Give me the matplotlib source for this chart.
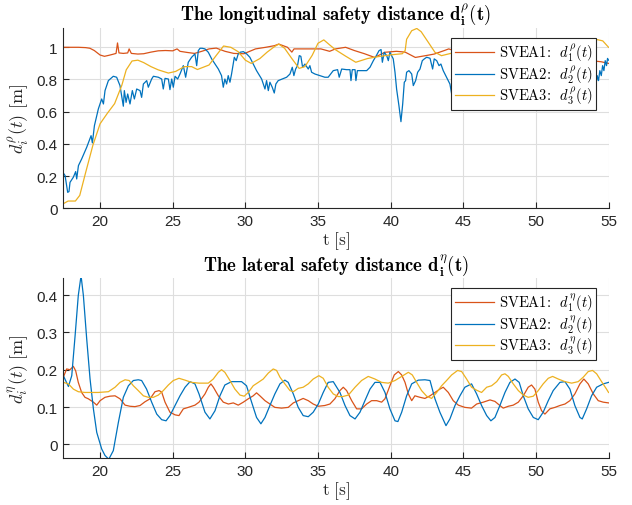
import matplotlib
matplotlib.use('Agg')
import matplotlib.pyplot as plt

plt.rcParams['mathtext.fontset'] = 'cm'
plt.rcParams['axes.unicode_minus'] = False

# longitudinal safety distance, SVEA1
t_rho1 = [17.5, 18.0, 18.5, 19.0, 19.3, 19.6, 20.0, 20.3, 20.6, 20.9,
          21.1, 21.2, 21.3, 21.6, 21.9, 22.0, 22.15, 22.6, 23.0, 23.5,
          24.0, 24.5, 25.0, 25.3, 25.5, 26.0, 26.5, 27.0, 27.5, 28.0,
          28.6, 29.2, 29.9, 30.3, 30.7, 31.4, 32.0, 32.3, 32.9, 33.2,
          33.35, 34.0, 34.5, 35.2, 35.8, 36.2, 36.9, 37.5, 38.2, 38.9,
          39.6, 40.4, 41.0, 41.7, 42.4, 43.0, 43.7, 44.0, 45.0, 46.0,
          47.0, 48.0, 49.0, 50.0, 51.0, 52.0, 53.0, 54.0, 54.5, 55.0]
d_rho1 = [1.0, 1.0, 1.0, 0.998, 0.994, 0.98, 0.952, 0.944, 0.95, 0.957,
          0.962, 1.027, 0.965, 0.962, 0.965, 0.99, 0.962, 0.958, 0.96, 0.97,
          0.978, 0.98, 0.978, 0.99, 0.975, 0.968, 0.962, 0.975, 0.99, 0.995,
          0.975, 0.962, 0.96, 0.975, 0.99, 1.0, 1.01, 1.02, 1.0, 0.97,
          0.99, 0.99, 0.99, 0.99, 0.975, 0.99, 1.0, 0.98, 0.96, 0.937,
          0.969, 0.975, 0.97, 0.937, 0.948, 0.958, 0.98, 0.99, 0.96, 0.95,
          0.94, 0.95, 0.94, 0.93, 0.94, 0.93, 0.92, 0.915, 0.91, 0.9]

# longitudinal safety distance, SVEA2
t_rho2 = [17.47, 17.59, 17.77, 17.86, 17.93, 18.16, 18.32, 18.39, 18.51, 18.73,
          19.08, 19.38, 19.47, 19.61, 19.88, 20.11, 20.23, 20.34, 20.57, 20.91,
          21.14, 21.37, 21.6, 21.67, 21.79, 21.9, 22.06, 22.22, 22.36, 22.52,
          22.75, 22.86, 22.98, 23.21, 23.32, 23.55, 23.67, 24.01, 24.24, 24.35,
          24.47, 24.7, 24.81, 24.93, 25.04, 25.16, 25.34, 25.5, 25.73, 25.89,
          26.07, 26.3, 26.53, 26.65, 26.76, 26.88, 27.03, 27.22, 27.45, 27.68,
          27.91, 28.14, 28.36, 28.48, 28.59, 28.71, 28.82, 28.94, 29.05, 29.24,
          29.37, 29.51, 29.63, 29.86, 30.09, 30.31, 30.54, 30.77, 31.12, 31.35,
          31.46, 31.58, 31.69, 31.85, 31.99, 32.1, 32.26, 32.54, 32.84, 33.07,
          33.23, 33.34, 33.46, 33.59, 33.71, 33.82, 33.94, 34.1, 34.33, 34.44,
          34.56, 34.79, 35.13, 35.47, 35.7, 36.05, 36.35, 36.46, 36.63, 36.97,
          37.2, 37.27, 37.36, 37.55, 37.61, 37.71, 38.0, 38.35, 38.58, 38.81,
          39.04, 39.2, 39.34, 39.43, 39.56, 39.73, 39.84, 39.95, 40.07, 40.18,
          40.3, 40.41, 40.57, 40.71, 40.83, 40.94, 41.03, 41.1, 41.26, 41.45,
          41.56, 41.72, 41.86, 42.02, 42.18, 42.32, 42.48, 42.71, 42.89, 43.0,
          43.17, 43.33, 43.46, 43.62, 43.85, 44.08, 44.2, 44.4, 44.8, 45.2,
          45.6, 46.0, 46.4, 46.8, 47.2, 47.6, 48.0, 48.4, 48.8, 49.2,
          49.6, 50.0, 50.4, 50.6, 50.75, 50.9, 51.2, 51.6, 52.0, 52.4,
          52.8, 53.2, 53.6, 53.9, 54.18, 54.22, 54.31, 54.4, 54.5, 54.59,
          54.68, 54.77, 54.86, 54.93, 55.0]
d_rho2 = [0.219, 0.203, 0.099, 0.104, 0.161, 0.193, 0.228, 0.182, 0.265, 0.306,
          0.379, 0.451, 0.406, 0.513, 0.617, 0.679, 0.648, 0.731, 0.793, 0.82,
          0.814, 0.762, 0.634, 0.731, 0.658, 0.71, 0.648, 0.731, 0.679, 0.741,
          0.731, 0.689, 0.772, 0.793, 0.752, 0.803, 0.82, 0.814, 0.803, 0.741,
          0.807, 0.803, 0.737, 0.803, 0.752, 0.82, 0.803, 0.834, 0.886, 0.814,
          0.907, 0.938, 0.959, 0.886, 0.979, 0.994, 0.994, 0.99, 0.969, 0.928,
          0.896, 0.865, 0.824, 0.752, 0.803, 0.772, 0.824, 0.783, 0.834, 0.938,
          0.917, 0.959, 0.969, 0.973, 0.959, 0.938, 0.896, 0.855, 0.803, 0.741,
          0.793, 0.731, 0.783, 0.752, 0.716, 0.772, 0.793, 0.803, 0.814, 0.834,
          0.876, 0.824, 0.865, 0.886, 0.948, 0.944, 0.876, 0.896, 0.865, 0.886,
          0.845, 0.834, 0.824, 0.814, 0.814, 0.855, 0.861, 0.814, 0.865, 0.861,
          0.861, 0.793, 0.861, 0.861, 0.793, 0.855, 0.855, 0.855, 0.876, 0.917,
          0.952, 0.979, 0.986, 0.907, 0.969, 0.948, 0.917, 0.969, 0.948, 0.928,
          0.845, 0.741, 0.638, 0.538, 0.648, 0.783, 0.793, 0.845, 0.855, 0.834,
          0.762, 0.793, 0.845, 0.865, 0.917, 0.928, 0.938, 0.932, 0.865, 0.928,
          0.917, 0.886, 0.896, 0.855, 0.814, 0.772, 0.71, 0.78, 0.83, 0.8,
          0.86, 0.79, 0.84, 0.88, 0.81, 0.86, 0.83, 0.9, 0.84, 0.88,
          0.82, 0.78, 0.74, 0.7, 0.69, 0.72, 0.77, 0.82, 0.86, 0.79,
          0.84, 0.8, 0.82, 0.8, 0.793, 0.824, 0.793, 0.855, 0.824, 0.886,
          0.855, 0.917, 0.886, 0.931, 0.92]

# longitudinal safety distance, SVEA3
t_rho3 = [17.5, 17.8, 18.3, 18.6, 19.0, 19.5, 20.0, 20.5, 21.0, 21.5,
          21.8, 22.2, 22.6, 23.0, 23.5, 24.0, 24.7, 25.2, 25.8, 26.3,
          26.7, 27.5, 28.0, 28.5, 29.0, 29.5, 30.0, 30.4, 31.0, 31.5,
          32.0, 32.3, 32.7, 33.2, 33.7, 34.1, 34.6, 35.0, 35.4, 35.8,
          36.2, 36.9, 37.6, 38.4, 39.0, 39.6, 40.2, 40.8, 41.0, 41.1,
          41.45, 41.8, 42.1, 42.6, 43.05, 43.5, 44.0, 44.5, 45.5, 46.5,
          47.5, 48.5, 49.5, 50.5, 51.5, 52.5, 53.5, 54.1, 54.6, 55.0]
d_rho3 = [0.03, 0.045, 0.045, 0.08, 0.22, 0.39, 0.525, 0.59, 0.65, 0.765,
          0.86, 0.915, 0.92, 0.905, 0.88, 0.86, 0.84, 0.85, 0.88, 0.88,
          0.862, 0.89, 0.95, 1.008, 1.0, 0.973, 0.92, 0.9, 0.93, 0.97,
          1.004, 1.02, 0.994, 0.93, 0.869, 0.88, 0.95, 1.025, 1.046, 1.015,
          0.985, 0.945, 0.907, 0.93, 0.94, 0.948, 0.955, 0.96, 0.98, 1.05,
          1.103, 1.117, 1.097, 1.03, 0.969, 0.948, 0.959, 0.97, 0.98, 1.0,
          0.99, 0.97, 0.98, 1.0, 1.02, 1.04, 1.05, 1.05, 1.04, 1.0]

# lateral safety distance, SVEA1
t_eta1 = [17.47, 17.7, 17.93, 18.16, 18.32, 18.5, 18.73, 18.96, 19.19, 19.54,
          19.77, 20.0, 20.34, 20.68, 21.03, 21.37, 21.72, 22.06, 22.4, 22.75,
          23.09, 23.44, 23.78, 24.06, 24.24, 24.47, 24.81, 25.16, 25.43, 25.73,
          26.07, 26.53, 26.81, 27.22, 27.45, 27.63, 27.8, 28.14, 28.48, 28.83,
          29.17, 29.51, 29.86, 30.2, 30.54, 30.77, 31.0, 31.35, 31.69, 32.03,
          32.49, 32.95, 33.3, 33.64, 33.98, 34.33, 34.67, 35.02, 35.47, 35.82,
          36.16, 36.51, 36.74, 36.97, 37.32, 37.66, 38.0, 38.35, 38.69, 39.04,
          39.38, 39.61, 39.95, 40.25, 40.53, 40.76, 40.99, 41.22, 41.45, 41.67,
          42.02, 42.36, 42.71, 43.05, 43.39, 43.62, 43.97, 44.31, 44.66, 45.11,
          45.57, 45.92, 46.38, 46.84, 47.18, 47.52, 47.75, 48.1, 48.44, 48.79,
          49.13, 49.47, 49.7, 49.93, 50.16, 50.39, 50.62, 50.96, 51.31, 51.65,
          52.0, 52.34, 52.68, 53.03, 53.3, 53.6, 53.95, 54.29, 54.63, 55.0]
d_eta1 = [0.18, 0.202, 0.2, 0.209, 0.197, 0.166, 0.139, 0.126, 0.122, 0.113,
          0.105, 0.117, 0.126, 0.129, 0.13, 0.122, 0.105, 0.102, 0.101, 0.104,
          0.114, 0.122, 0.141, 0.144, 0.14, 0.113, 0.086, 0.079, 0.077, 0.095,
          0.099, 0.105, 0.113, 0.135, 0.153, 0.162, 0.153, 0.13, 0.113, 0.108,
          0.111, 0.105, 0.113, 0.122, 0.13, 0.138, 0.13, 0.117, 0.108, 0.099,
          0.097, 0.099, 0.111, 0.117, 0.123, 0.117, 0.108, 0.102, 0.104, 0.108,
          0.122, 0.144, 0.153, 0.144, 0.117, 0.095, 0.095, 0.108, 0.117, 0.117,
          0.113, 0.122, 0.157, 0.186, 0.195, 0.186, 0.166, 0.135, 0.117, 0.13,
          0.126, 0.123, 0.13, 0.139, 0.148, 0.153, 0.139, 0.117, 0.105, 0.099,
          0.097, 0.108, 0.113, 0.119, 0.115, 0.104, 0.097, 0.102, 0.105, 0.113,
          0.13, 0.153, 0.159, 0.148, 0.113, 0.09, 0.081, 0.095, 0.099, 0.104,
          0.108, 0.117, 0.135, 0.162, 0.175, 0.162, 0.135, 0.117, 0.113, 0.111]

# lateral safety distance, SVEA2
t_eta2 = [17.47, 17.82, 18.05, 18.28, 18.5, 18.69, 18.85, 19.08, 19.31, 19.54,
          19.77, 20.11, 20.34, 20.6, 20.91, 21.26, 21.6, 21.95, 22.29, 22.63,
          22.86, 23.2, 23.55, 23.9, 24.24, 24.54, 24.81, 25.16, 25.5, 25.85,
          26.19, 26.53, 26.81, 27.22, 27.56, 27.91, 28.25, 28.59, 29.05, 29.74,
          30.08, 30.43, 30.77, 31.07, 31.35, 31.69, 32.03, 32.38, 32.72, 32.95,
          33.3, 33.64, 33.98, 34.33, 34.67, 35.02, 35.36, 35.7, 36.05, 36.51,
          36.86, 37.2, 37.55, 37.89, 38.23, 38.58, 38.92, 39.27, 39.61, 39.95,
          40.3, 40.5, 40.76, 41.1, 41.45, 41.9, 42.36, 42.71, 43.05, 43.39,
          43.81, 44.08, 44.43, 44.77, 45.11, 45.57, 45.92, 46.26, 46.61, 46.9,
          47.18, 47.52, 47.87, 48.21, 48.56, 48.85, 49.13, 49.47, 49.82, 50.16,
          50.5, 50.85, 51.19, 51.65, 52.0, 52.34, 52.68, 53.03, 53.19, 53.49,
          53.83, 54.18, 54.63, 55.0]
d_eta2 = [0.184, 0.155, 0.184, 0.291, 0.399, 0.452, 0.399, 0.282, 0.175, 0.095,
          0.032, -0.0125, -0.03, -0.04, -0.017, 0.059, 0.126, 0.157, 0.171, 0.173,
          0.171, 0.148, 0.113, 0.081, 0.066, 0.063, 0.077, 0.104, 0.13, 0.153,
          0.168, 0.162, 0.135, 0.086, 0.068, 0.09, 0.13, 0.159, 0.168, 0.168,
          0.157, 0.113, 0.072, 0.055, 0.072, 0.104, 0.135, 0.162, 0.172, 0.166,
          0.135, 0.099, 0.077, 0.074, 0.086, 0.108, 0.139, 0.166, 0.168, 0.139,
          0.104, 0.077, 0.068, 0.086, 0.117, 0.148, 0.166, 0.166, 0.139, 0.095,
          0.063, 0.061, 0.086, 0.13, 0.162, 0.172, 0.173, 0.171, 0.122, 0.086,
          0.05, 0.068, 0.104, 0.13, 0.153, 0.162, 0.135, 0.104, 0.077, 0.063,
          0.072, 0.104, 0.139, 0.166, 0.175, 0.166, 0.13, 0.095, 0.072, 0.066,
          0.086, 0.117, 0.144, 0.166, 0.168, 0.148, 0.104, 0.072, 0.068, 0.095,
          0.13, 0.153, 0.162, 0.166]

# lateral safety distance, SVEA3
t_eta3 = [17.47, 17.82, 18.16, 18.5, 18.96, 19.42, 19.88, 20.57, 21.03, 21.37,
          21.72, 22.0, 22.29, 22.63, 22.98, 23.32, 23.67, 24.01, 24.35, 24.7,
          25.04, 25.43, 25.85, 26.3, 26.81, 27.45, 27.79, 28.14, 28.36, 28.59,
          28.94, 29.28, 29.63, 29.92, 30.2, 30.54, 30.89, 31.23, 31.58, 31.92,
          32.15, 32.38, 32.72, 33.07, 33.3, 33.64, 33.98, 34.33, 34.67, 35.06,
          35.36, 35.7, 36.05, 36.4, 36.7, 37.09, 37.55, 38.0, 38.46, 38.92,
          39.38, 39.84, 40.3, 40.76, 41.22, 41.49, 41.79, 42.13, 42.48, 42.82,
          43.17, 43.51, 43.85, 44.2, 44.61, 44.89, 45.23, 45.57, 45.92, 46.26,
          46.61, 46.95, 47.3, 47.64, 47.87, 48.1, 48.44, 48.79, 49.13, 49.47,
          49.82, 50.16, 50.5, 50.85, 51.15, 51.54, 52.0, 52.46, 52.91, 53.26,
          53.6, 53.9, 54.18, 54.52, 54.86, 55.0]
d_eta3 = [0.166, 0.162, 0.148, 0.141, 0.139, 0.139, 0.139, 0.141, 0.153, 0.166,
          0.173, 0.171, 0.157, 0.144, 0.13, 0.126, 0.126, 0.132, 0.144, 0.159,
          0.171, 0.177, 0.172, 0.166, 0.164, 0.164, 0.175, 0.193, 0.2, 0.193,
          0.171, 0.148, 0.132, 0.129, 0.139, 0.157, 0.166, 0.175, 0.191, 0.202,
          0.198, 0.18, 0.162, 0.144, 0.141, 0.15, 0.153, 0.162, 0.175, 0.184,
          0.177, 0.153, 0.135, 0.128, 0.128, 0.132, 0.153, 0.171, 0.182, 0.175,
          0.166, 0.164, 0.171, 0.182, 0.193, 0.186, 0.166, 0.144, 0.129, 0.123,
          0.139, 0.157, 0.171, 0.186, 0.198, 0.195, 0.175, 0.153, 0.145, 0.139,
          0.153, 0.157, 0.168, 0.186, 0.189, 0.182, 0.162, 0.144, 0.132, 0.126,
          0.129, 0.144, 0.162, 0.177, 0.182, 0.175, 0.168, 0.164, 0.168, 0.18,
          0.195, 0.198, 0.189, 0.168, 0.148, 0.139]

x_ticks = [20, 25, 30, 35, 40, 45, 50, 55]
rho_ticks = [0, 0.2, 0.4, 0.6, 0.8, 1]
rho_ticklabels = ['0', '0.2', '0.4', '0.6', '0.8', '1']
eta_ticks = [0, 0.1, 0.2, 0.3, 0.4]
eta_ticklabels = ['0', '0.1', '0.2', '0.3', '0.4']

c_orange = '#D95319'
c_blue = '#0072BD'
c_yellow = '#EDB120'
dark = '#262626'


def Style(ax, yticks, yticklabels, ylim, ylabel, title):
    ax.set_xlim(17.47, 55)
    ax.set_ylim(*ylim)
    ax.set_xticks(x_ticks)
    ax.set_xticklabels([str(v) for v in x_ticks])
    ax.set_yticks(yticks)
    ax.set_yticklabels(yticklabels)
    ax.grid(True, color='#dedede', linewidth=0.8)
    ax.set_axisbelow(True)
    for side in ['top', 'right']:
        ax.spines[side].set_visible(False)
    for side in ['left', 'bottom']:
        ax.spines[side].set_color(dark)
        ax.spines[side].set_linewidth(0.8)
    ax.tick_params(direction='in', length=4, width=0.8, color=dark,
                   labelcolor=dark, labelsize=11, pad=4)
    for lab in ax.get_xticklabels() + ax.get_yticklabels():
        lab.set_fontfamily('Liberation Sans')
    ax.set_xlabel(r'$\mathrm{t}\ [\mathrm{s}]$', fontsize=12.5, color=dark, labelpad=1)
    ax.set_ylabel(ylabel, fontsize=13, color=dark, labelpad=4)
    ax.set_title(title, fontsize=13.5, fontfamily='cmb10', pad=6)
    leg = ax.legend(loc='upper right', bbox_to_anchor=(0.977, 0.946),
                    borderaxespad=0, fancybox=False, framealpha=1,
                    edgecolor=dark, handlelength=2.7,
                    handletextpad=0.3, borderpad=0.25, labelspacing=0.0,
                    prop={'family': 'cmr10', 'size': 10.5})
    leg.get_frame().set_linewidth(0.8)


fig = plt.figure(figsize=(6.32, 5.06), dpi=100)
ax1 = fig.add_axes([0.1002, 0.5864, 0.8627, 0.3557])
ax2 = fig.add_axes([0.1002, 0.0923, 0.8627, 0.3557])

ax1.plot(t_rho1, d_rho1, color=c_orange, lw=0.9, label=r'SVEA1:  $d_1^{\rho}(t)$')
ax1.plot(t_rho2, d_rho2, color=c_blue, lw=0.9, label=r'SVEA2:  $d_2^{\rho}(t)$')
ax1.plot(t_rho3, d_rho3, color=c_yellow, lw=0.9, label=r'SVEA3:  $d_3^{\rho}(t)$')
Style(ax1, rho_ticks, rho_ticklabels, (0, 1.118), r'$d_i^{\rho}(t)\ [\mathrm{m}]$',
      r'The longitudinal safety distance $\mathbf{d}_\mathbf{i}^{\rho}\mathbf{(t)}$')

ax2.plot(t_eta1, d_eta1, color=c_orange, lw=0.9, label=r'SVEA1:  $d_1^{\eta}(t)$')
ax2.plot(t_eta2, d_eta2, color=c_blue, lw=0.9, label=r'SVEA2:  $d_2^{\eta}(t)$')
ax2.plot(t_eta3, d_eta3, color=c_yellow, lw=0.9, label=r'SVEA3:  $d_3^{\eta}(t)$')
Style(ax2, eta_ticks, eta_ticklabels, (-0.0375, 0.445), r'$d_i^{\eta}(t)\ [\mathrm{m}]$',
      r'The lateral safety distance $\mathbf{d}_\mathbf{i}^{\eta}\mathbf{(t)}$')

fig.savefig('out.png', dpi=100)
